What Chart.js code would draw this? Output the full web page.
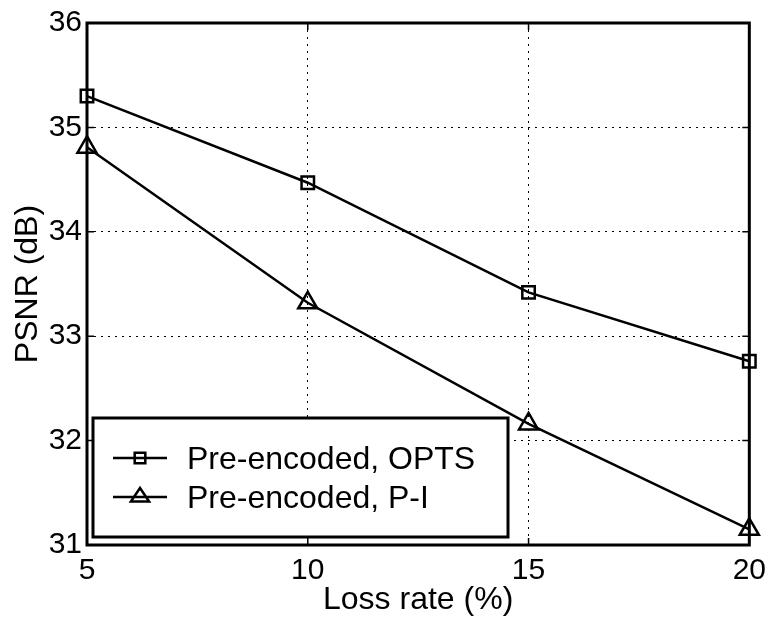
<!DOCTYPE html>
<html>
<head>
<meta charset="utf-8">
<script src="https://cdn.jsdelivr.net/npm/chart.js@4.4.0/dist/chart.umd.min.js"></script>
<style>
  html, body { margin: 0; padding: 0; background: #fff; }
  #wrap { width: 774px; height: 621px; }
</style>
</head>
<body>
<div id="wrap"><canvas id="psnr" width="774" height="621"></canvas></div>
<script>
// values
const lossRates = [5, 10, 15, 20];
const optsPsnr = [35.30, 34.47, 33.42, 32.76];
const piPsnr = [34.81, 33.32, 32.16, 31.15];
const seriesLabels = ['Pre-encoded, OPTS', 'Pre-encoded, P-I'];
const xTicks = [5, 10, 15, 20];
const yTicks = [31, 32, 33, 34, 35, 36];

const FONT = "'Liberation Sans', Arial, Helvetica, sans-serif";

const toPoints = (ys) => lossRates.map((x, i) => ({ x: x, y: ys[i] }));

// box, inward ticks and legend drawn like the matlab original
const matlabBox = {
    id: 'matlabBox',
    afterDatasetsDraw(chart) {
        const { ctx, chartArea: a, scales } = chart;
        ctx.save();
        ctx.strokeStyle = '#000';
        ctx.setLineDash([]);

        // inward tick marks on all four sides
        ctx.lineWidth = 1.5;
        const tl = 7;
        xTicks.forEach(v => {
            const px = scales.x.getPixelForValue(v);
            ctx.beginPath();
            ctx.moveTo(px, a.bottom); ctx.lineTo(px, a.bottom - tl);
            ctx.moveTo(px, a.top); ctx.lineTo(px, a.top + tl);
            ctx.stroke();
        });
        yTicks.forEach(v => {
            const py = scales.y.getPixelForValue(v);
            ctx.beginPath();
            ctx.moveTo(a.left, py); ctx.lineTo(a.left + tl, py);
            ctx.moveTo(a.right, py); ctx.lineTo(a.right - tl, py);
            ctx.stroke();
        });

        // axes box
        ctx.lineWidth = 3;
        ctx.strokeRect(a.left, a.top, a.right - a.left, a.bottom - a.top);

        // legend
        const lx = a.left + 6, ly = a.bottom - 127, lw = 415, lh = 119;
        ctx.fillStyle = '#fff';
        ctx.fillRect(lx, ly, lw, lh);
        ctx.lineWidth = 3;
        ctx.strokeRect(lx, ly, lw, lh);

        const rows = [ly + 40, ly + 79];
        chart.data.datasets.forEach((ds, i) => {
            const y = rows[i];
            ctx.lineWidth = 2.5;
            ctx.beginPath();
            ctx.moveTo(lx + 20, y);
            ctx.lineTo(lx + 74, y);
            ctx.stroke();

            ctx.fillStyle = 'rgba(0,0,0,0)';
            ctx.lineWidth = 2.5;
            const opts = { pointStyle: ds.pointStyle, radius: i === 0 ? 7.5 : 9, borderWidth: 2.5, rotation: 0 };
            if (Chart.helpers && Chart.helpers.drawPointLegend) {
                Chart.helpers.drawPointLegend(ctx, opts, lx + 47, y, i === 0 ? 0 : 21);
            } else {
                Chart.helpers.drawPoint(ctx, opts, lx + 47, y);
            }

            ctx.fillStyle = '#000';
            ctx.font = '32px ' + FONT;
            ctx.textAlign = 'left';
            ctx.textBaseline = 'alphabetic';
            ctx.fillText(ds.label, lx + 94, y + 11);
        });
        ctx.restore();
    }
};

const ctx = document.getElementById('psnr').getContext('2d');
const chart = new Chart(ctx, {
    type: 'line',
    data: {
        datasets: [
            {
                label: seriesLabels[0],
                data: toPoints(optsPsnr),
                borderColor: '#000',
                borderWidth: 2.5,
                pointStyle: 'rect',
                pointRadius: 8.8,
                pointBorderWidth: 2.5,
                pointBorderColor: '#000',
                pointBackgroundColor: 'rgba(0,0,0,0)',
                tension: 0,
                clip: false
            }, {
                label: seriesLabels[1],
                data: toPoints(piPsnr),
                borderColor: '#000',
                borderWidth: 2.5,
                pointStyle: 'triangle',
                pointRadius: 11,
                pointBorderWidth: 2.5,
                pointBorderColor: '#000',
                pointBackgroundColor: 'rgba(0,0,0,0)',
                tension: 0,
                clip: false
            }
        ]
    },
    options: {
        responsive: false,
        animation: false,
        devicePixelRatio: 1,
        layout: { padding: { top: 20, right: 24, left: 0, bottom: 0 } },
        plugins: {
            legend: { display: false },
            tooltip: { enabled: false }
        },
        scales: {
            x: {
                type: 'linear',
                min: 5,
                max: 20,
                afterBuildTicks: (scale) => { scale.ticks = xTicks.map(v => ({ value: v })); },
                afterFit: (scale) => { scale.height = 76; },
                ticks: {
                    color: '#000',
                    padding: 8,
                    maxRotation: 0,
                    font: { family: FONT, size: 30 }
                },
                grid: { color: '#000', lineWidth: 1, drawTicks: false, borderDash: [2, 5] },
                border: { display: false, dash: [2, 5] },
                title: {
                    display: true,
                    text: 'Loss rate (%)',
                    color: '#000',
                    padding: { top: 0, bottom: 2 },
                    font: { family: FONT, size: 32 }
                }
            },
            y: {
                type: 'linear',
                min: 31,
                max: 36,
                afterBuildTicks: (scale) => { scale.ticks = yTicks.map(v => ({ value: v })); },
                afterFit: (scale) => { scale.width = 87; },
                ticks: {
                    color: '#000',
                    padding: 5,
                    font: { family: FONT, size: 30 }
                },
                grid: { color: '#000', lineWidth: 1, drawTicks: false, borderDash: [2, 5] },
                border: { display: false, dash: [2, 5] },
                title: {
                    display: true,
                    text: 'PSNR (dB)',
                    color: '#000',
                    padding: { top: 9, bottom: 0 },
                    font: { family: FONT, size: 32 }
                }
            }
        }
    },
    plugins: [matlabBox]
});
</script>
</body>
</html>
